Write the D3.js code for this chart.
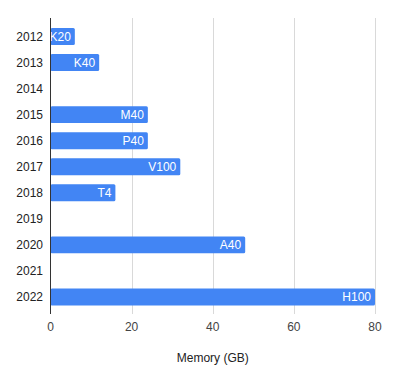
<!DOCTYPE html>
<html>
<head>
<meta charset="utf-8">
<script src="https://cdn.jsdelivr.net/npm/d3@7"></script>
<style>
  body { margin: 0; background: #fff; }
  text { font-family: Arial, "Liberation Sans", sans-serif; }
</style>
</head>
<body>
<div id="chart"></div>
<script>
var width = 395,
    height = 384;

// data
var years = ["2012","2013","2014","2015","2016","2017","2018","2019","2020","2021","2022"];
var gpus = ["K20","K40",null,"M40","P40","V100","T4",null,"A40",null,"H100"];
var memory = [6,12,null,24,24,32,16,null,48,null,80];
var xTicks = [0,20,40,60,80];

var margin = {top: 23.5, left: 50.5, right: 20, bottom: 74};

var svg = d3.select('#chart').append('svg')
    .attr('width', width)
    .attr('height', height);

var scaleX = d3.scaleLinear().domain([0,80]).range([margin.left, 375]);
var scaleY = d3.scaleBand().domain(years)
    .range([margin.top, height-margin.bottom])
    .paddingInner(0.35).paddingOuter(0.175);

var plotBottom = 314;

// gridlines
svg.append('g').selectAll('line').data(xTicks.slice(1)).enter()
    .append('line')
    .attr('x1', d => Math.round(scaleX(d))+0.5)
    .attr('x2', d => Math.round(scaleX(d))+0.5)
    .attr('y1', 18)
    .attr('y2', plotBottom)
    .attr('stroke', '#d9d9d9')
    .attr('stroke-width', 1);

// bars
var rows = years.map((y,i) => ({year: y, gpu: gpus[i], mem: memory[i]})).filter(d => d.mem != null);

svg.append('g').selectAll('rect').data(rows).enter()
    .append('rect')
    .attr('x', scaleX(0))
    .attr('y', d => scaleY(d.year))
    .attr('width', d => scaleX(d.mem)-scaleX(0))
    .attr('height', scaleY.bandwidth())
    .attr('rx', 1.5)
    .attr('fill', '#4285f4');

// bar labels
svg.append('g').selectAll('text').data(rows).enter()
    .append('text')
    .attr('x', d => scaleX(d.mem)-4)
    .attr('y', d => scaleY(d.year)+scaleY.bandwidth()/2)
    .attr('dy', '0.35em')
    .attr('text-anchor', 'end')
    .attr('font-size', 12)
    .attr('fill', '#fff')
    .text(d => d.gpu);

// zero axis line
svg.append('line')
    .attr('x1', scaleX(0)).attr('x2', scaleX(0))
    .attr('y1', 18).attr('y2', plotBottom)
    .attr('stroke', '#333')
    .attr('stroke-width', 1);

// y labels
svg.append('g').selectAll('text').data(years).enter()
    .append('text')
    .attr('x', 43)
    .attr('y', d => scaleY(d)+scaleY.bandwidth()/2)
    .attr('dy', '0.35em')
    .attr('text-anchor', 'end')
    .attr('font-size', 12)
    .attr('fill', '#222')
    .text(d => d);

// x tick labels
svg.append('g').selectAll('text').data(xTicks).enter()
    .append('text')
    .attr('x', d => scaleX(d))
    .attr('y', 327)
    .attr('dy', '0.35em')
    .attr('text-anchor', 'middle')
    .attr('font-size', 12)
    .attr('fill', '#444')
    .text(d => d);

// axis title
svg.append('text')
    .attr('x', (scaleX(0)+scaleX(80))/2)
    .attr('y', 358)
    .attr('dy', '0.35em')
    .attr('text-anchor', 'middle')
    .attr('font-size', 12)
    .attr('fill', '#222')
    .text('Memory (GB)');
</script>
</body>
</html>
